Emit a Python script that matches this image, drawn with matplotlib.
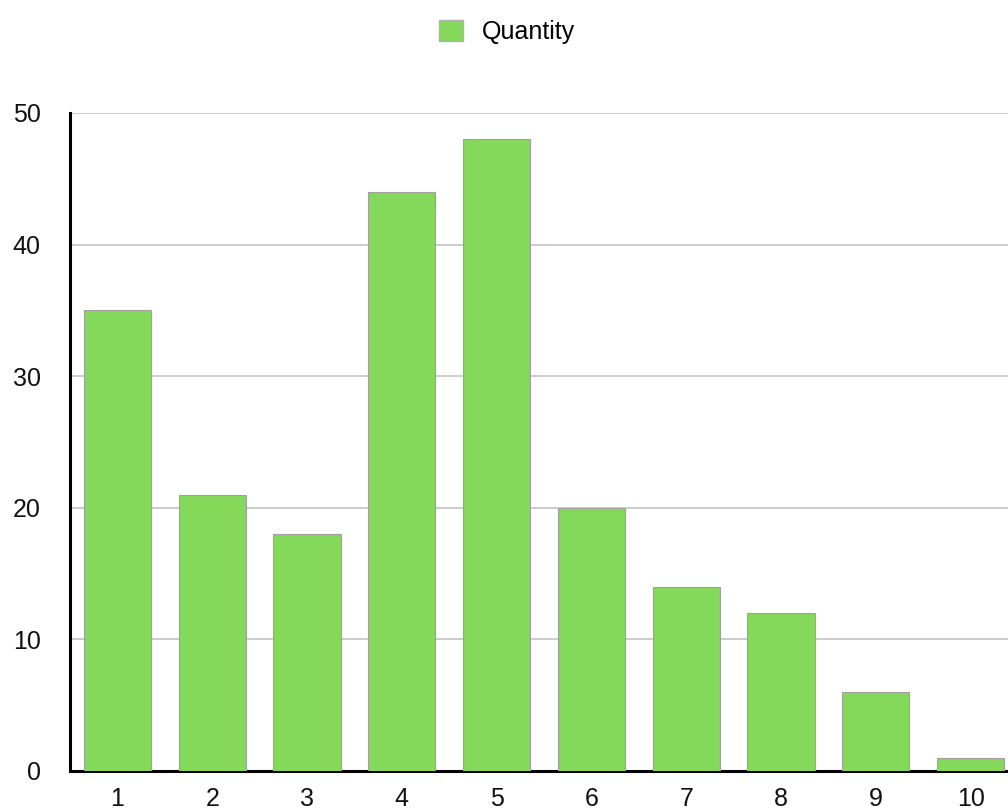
import matplotlib
matplotlib.use('Agg')
import matplotlib.pyplot as plt
from matplotlib.patches import Patch

# quantity per group
groups = ['1', '2', '3', '4', '5', '6', '7', '8', '9', '10']
quantity = [35, 21, 18, 44, 48, 20, 14, 12, 6, 1]

plt.rcParams['font.family'] = ['Liberation Sans', 'DejaVu Sans']

fig = plt.figure(figsize=(10.08, 8.11), dpi=100)
# axes runs slightly past the right edge of the figure
ax = fig.add_axes([70 / 1008, 40 / 811, 948 / 1008, 658 / 811])

x = list(range(1, len(groups) + 1))
ax.bar(x, quantity, width=0.71, color='#84d85a', edgecolor='#a0a0a0',
       linewidth=0.8, zorder=3)

ax.set_xlim(0.5, len(groups) + 0.5)
ax.set_ylim(0, 50)
ax.set_yticks([0, 10, 20, 30, 40, 50])
ax.set_xticks(x)
ax.set_xticklabels(groups)
ax.yaxis.grid(True, color='#c4c4c4', linewidth=1.2, zorder=0)
ax.set_axisbelow(True)

for s in ['top', 'right']:
    ax.spines[s].set_visible(False)
ax.spines['left'].set_linewidth(2.2)
ax.spines['bottom'].set_linewidth(2.2)
ax.tick_params(axis='both', length=0, labelsize=18, colors='#111111')
ax.tick_params(axis='y', pad=21)
ax.tick_params(axis='x', pad=11.5)

handle = Patch(facecolor='#84d85a', edgecolor='#b0b0b0', label='Quantity')
fig.legend(handles=[handle], loc='center', bbox_to_anchor=(507 / 1008, 1 - 32 / 811),
           frameon=False, fontsize=18, handlelength=0.95, handleheight=0.95,
           handletextpad=0.75)

fig.savefig('out.png', dpi=100)
